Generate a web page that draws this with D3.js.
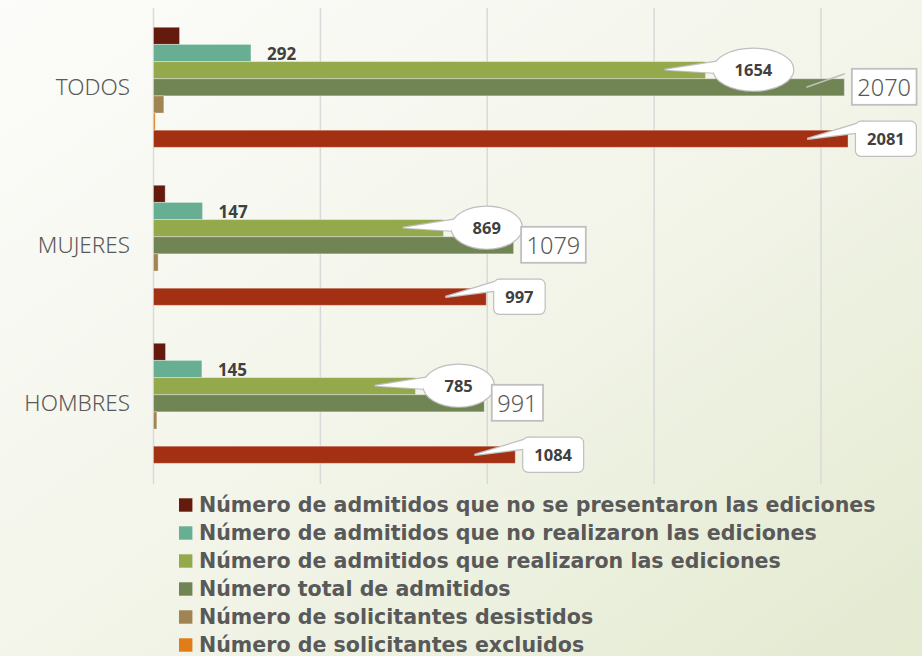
<!DOCTYPE html>
<html><head><meta charset="utf-8">
<script src="https://cdn.jsdelivr.net/npm/d3@7"></script>
<style>html,body{margin:0;padding:0;overflow:hidden;background:#f6f7ef}</style>
</head><body>
<svg id="c" width="922" height="656"></svg>
<script>
// ---- data ----
const categories = ["TODOS", "MUJERES", "HOMBRES"];
const seriesNames = [
  "Número de admitidos que no se presentaron las ediciones",
  "Número de admitidos que no realizaron las ediciones",
  "Número de admitidos que realizaron las ediciones",
  "Número total de admitidos",
  "Número de solicitantes desistidos",
  "Número de solicitantes excluidos",
  "Número total de solicitantes"
];
const seriesColors = ["#641a0c", "#68ae93", "#94a84c", "#718554", "#a08452", "#e07d18", "#a33013"];
const noPresentaron = [78, 35, 36];
const noRealizaron = [292, 147, 145];
const realizaron = [1654, 869, 785];
const totalAdmitidos = [2070, 1079, 991];
const desistidos = [31, 14, 10];
const excluidos = [5, 0, 0];
const totalSolicitantes = [2081, 997, 1084];
const xTicks = [0, 500, 1000, 1500, 2000];
const totalLeader = [true, false, false];
const legendVisible = 6; // entries visible in the picture (the 7th lies below the frame)

const seriesValues = [noPresentaron, noRealizaron, realizaron, totalAdmitidos, desistidos, excluidos, totalSolicitantes];

// ---- setup ----
const svg = d3.select("#c");
const defs = svg.append("defs");
const grad = defs.append("linearGradient").attr("id", "bg")
  .attr("x1", "0").attr("y1", "0").attr("x2", "1").attr("y2", "1");
grad.append("stop").attr("offset", "0").attr("stop-color", "#fcfcfa");
grad.append("stop").attr("offset", "0.5").attr("stop-color", "#f3f5ea");
grad.append("stop").attr("offset", "1").attr("stop-color", "#e3ead0");
svg.append("rect").attr("width", 922).attr("height", 656).attr("fill", "url(#bg)");

const x = d3.scaleLinear().domain([0, 2000]).range([153.5, 821]);
const y = d3.scaleBand().domain(categories).range([8.3, 482.3]).paddingInner(0.24).paddingOuter(0.12);
const ys = d3.scaleBand().domain(d3.range(seriesNames.length)).range([0, y.bandwidth()]);

// gridlines
svg.append("g").selectAll("line").data(xTicks).join("line")
  .attr("x1", d => x(d)).attr("x2", d => x(d))
  .attr("y1", 8).attr("y2", 484)
  .attr("stroke", "#d9d9d9").attr("stroke-width", 1.5);

// category labels
svg.append("g").selectAll("text").data(categories).join("text")
  .attr("x", 130).attr("y", d => y(d) + y.bandwidth() / 2)
  .attr("dy", "0.36em").attr("text-anchor", "end")
  .attr("font-family", "'Noto Sans', sans-serif").attr("font-weight", 300).attr("font-size", 22.5)
  .attr("fill", "#595959").text(d => d);

// bars
const bars = [];
seriesValues.forEach((vals, si) => vals.forEach((v, ci) => bars.push({si, ci, v})));
svg.append("g").selectAll("rect").data(bars).join("rect")
  .attr("x", x(0))
  .attr("y", d => y(categories[d.ci]) + ys(d.si))
  .attr("width", d => Math.max(0, x(d.v) - x(0)))
  .attr("height", ys.bandwidth())
  .attr("fill", d => seriesColors[d.si])
  .attr("stroke", d => d.v > 0 ? "rgba(255,255,255,0.35)" : "none")
  .attr("stroke-width", 1);

const font = "'Open Sans', sans-serif";
const labelG = svg.append("g");

function barY(ci, si) { return y(categories[ci]) + ys(si) + ys.bandwidth() / 2; }

// labels: no realizaron (plain)
noRealizaron.forEach((v, ci) => {
  labelG.append("text")
    .attr("x", x(v) + 16).attr("y", y(categories[ci]) + ys(1) + ys.bandwidth() - 1.5)
    .attr("font-family", font).attr("font-weight", 700).attr("font-size", 17)
    .attr("fill", "#404040").text(v);
});

// ellipse callouts: realizaron
realizaron.forEach((v, ci) => {
  const cy = barY(ci, 2) - 0.5;
  const t = labelG.append("text").attr("font-family", font).attr("font-weight", 700)
    .attr("font-size", 16.5).attr("fill", "#404040").attr("text-anchor", "middle").attr("dy", "0.36em").text(v);
  const tw = t.node().getComputedTextLength();
  const rx = tw / 2 + 21, ry = 21;
  const cx = x(v) + 8 + rx;
  const a = 22 * Math.PI / 180;
  const tail = [[x(v) - 40, cy], [cx - rx * Math.cos(a), cy - ry * Math.sin(a)], [cx - rx, cy + 3]];
  const g = labelG.insert("g", () => t.node());
  const stroke = "#bfbfbf";
  g.append("path").attr("d", d3.line()(tail) + "Z").attr("fill", "#fff").attr("stroke", stroke).attr("stroke-width", 2.4).attr("stroke-linejoin", "round");
  g.append("ellipse").attr("cx", cx).attr("cy", cy).attr("rx", rx).attr("ry", ry).attr("fill", "#fff").attr("stroke", stroke).attr("stroke-width", 2.4);
  g.append("path").attr("d", d3.line()(tail) + "Z").attr("fill", "#fff");
  g.append("ellipse").attr("cx", cx).attr("cy", cy).attr("rx", rx).attr("ry", ry).attr("fill", "#fff");
  t.attr("x", cx).attr("y", cy);
});

// rect callouts: total admitidos
totalAdmitidos.forEach((v, ci) => {
  const cy = barY(ci, 3) - 0.5;
  const t = labelG.append("text").attr("font-family", "'Noto Sans', sans-serif").attr("font-weight", 300)
    .attr("font-size", 23.5).attr("fill", "#595959").attr("text-anchor", "middle").attr("dy", "0.36em").text(v);
  const tw = t.node().getComputedTextLength();
  const w = tw + 11, h = 36;
  const left = x(v) + 7.5;
  const g = labelG.insert("g", () => t.node());
  if (totalLeader[ci]) {
    g.append("line").attr("x1", x(v) - 38).attr("y1", barY(ci, 3)).attr("x2", left - 7).attr("y2", cy - h / 2 + 5)
      .attr("stroke", "#bfbfbf").attr("stroke-width", 1.5);
  }
  g.append("rect").attr("x", left).attr("y", cy - h / 2).attr("width", w).attr("height", h)
    .attr("fill", "#fff").attr("stroke", "#bfbfbf").attr("stroke-width", 1.8);
  t.attr("x", left + w / 2).attr("y", cy + 1);
});

// rounded rect callouts: total solicitantes
totalSolicitantes.forEach((v, ci) => {
  const cy = barY(ci, 6);
  const t = labelG.append("text").attr("font-family", font).attr("font-weight", 700)
    .attr("font-size", 16.5).attr("fill", "#404040").attr("text-anchor", "middle").attr("dy", "0.36em").text(v);
  const tw = t.node().getComputedTextLength();
  const w = tw + 22, h = 34;
  const left = x(v) + 8, top = cy - h / 2;
  const tail = [[x(v) - 40, cy], [left + 8, top], [left, top + 11]];
  const g = labelG.insert("g", () => t.node());
  const stroke = "#bfbfbf";
  g.append("path").attr("d", d3.line()(tail) + "Z").attr("fill", "#fff").attr("stroke", stroke).attr("stroke-width", 2.4).attr("stroke-linejoin", "round");
  g.append("rect").attr("x", left).attr("y", top).attr("width", w).attr("height", h).attr("rx", 5)
    .attr("fill", "#fff").attr("stroke", stroke).attr("stroke-width", 2.4);
  g.append("path").attr("d", d3.line()(tail) + "Z").attr("fill", "#fff");
  g.append("rect").attr("x", left).attr("y", top).attr("width", w).attr("height", h).attr("rx", 5).attr("fill", "#fff");
  t.attr("x", left + w / 2).attr("y", cy);
});

// legend
const legend = svg.append("g");
const rowH = 28, ly0 = 505;
const items = legend.selectAll("g").data(seriesNames.slice(0, legendVisible)).join("g")
  .attr("transform", (d, i) => `translate(179,${ly0 + i * rowH})`);
items.append("rect").attr("x", 0).attr("y", -6.7).attr("width", 13.4).attr("height", 13.4)
  .attr("fill", (d, i) => seriesColors[i]);
const lt = items.append("text").attr("x", 20).attr("dy", "0.36em")
  .attr("font-family", "'DejaVu Sans', sans-serif").attr("font-weight", 700).attr("font-size", 19)
  .attr("fill", "#595959").text(d => d);
const w0 = lt.nodes()[0].getComputedTextLength();
lt.attr("font-size", Math.min(21, 19 * 677 / w0));
</script>
</body></html>
